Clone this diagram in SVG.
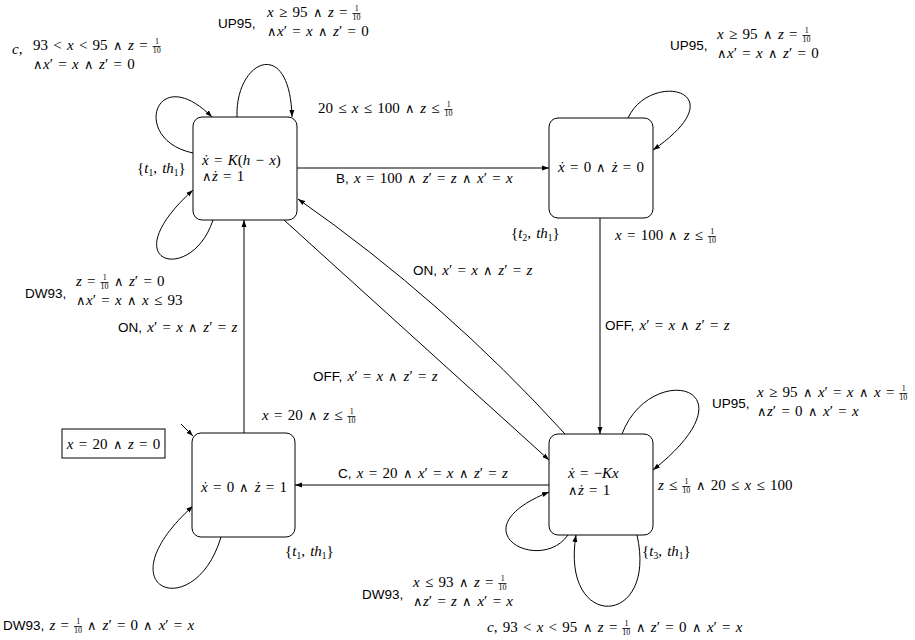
<svg xmlns="http://www.w3.org/2000/svg" width="915" height="640" viewBox="0 0 915 640">
<defs>
<style>
.m{font-family:"Liberation Serif","DejaVu Serif",serif;font-size:15px;word-spacing:1.5px;fill:#000}
.i{font-style:italic}
.s{font-family:"Liberation Sans",Arial,sans-serif;font-size:13.5px;font-style:normal;word-spacing:0}
.a{font-family:"DejaVu Sans",sans-serif;font-weight:200;font-size:13px}
.fr{font-size:8px}
.ol{text-decoration:overline}
.sb{font-size:9.5px}
.box{fill:#fff;stroke:#000;stroke-width:1}
.e{fill:none;stroke:#000;stroke-width:1;marker-end:url(#ah)}
</style>
<marker id="ah" viewBox="0 0 10 10" refX="10" refY="5" markerWidth="7" markerHeight="7" orient="auto" markerUnits="userSpaceOnUse">
<path d="M0,1.5 L10,5 L0,8.5 z" fill="#000"/>
</marker>
</defs>
<rect width="915" height="640" fill="#fff"/>

<g id="connectors">
<path class="e" d="M297,168 L549,168"/>
<path class="e" d="M600,218 L600,434"/>
<path class="e" d="M549,485 L295,485"/>
<path class="e" d="M244,433 L244,220"/>
<path class="e" d="M284,220 L549,460"/>
<path class="e" d="M565,434 Q444.7,301.5 298,199"/>
<path class="e" d="M237,117 C235,60 290,35 292,117"/>
<path class="e" d="M193,153 C130,140 155,60 212,117"/>
<path class="e" d="M213,220 C192,285 110,265 193,190"/>
<path class="e" d="M628,118 C650,70 740,90 653,150"/>
<path class="e" d="M622,434 C650,360 760,385 653,470"/>
<path class="e" d="M568,535 C540,575 455,530 549,492"/>
<path class="e" d="M637,535 C658,628 560,632 576,535"/>
<path class="e" d="M221,537 C195,625 100,590 193,506"/>
<path class="e" d="M181,424 L193,436"/>
</g>

<g id="n1">
<rect class="box" x="193" y="117" width="104" height="103" rx="9"/>
<text class="m" x="202" y="165"><tspan class="i">x&#x307;</tspan> = <tspan class="i">K</tspan>(<tspan class="i">h</tspan> − <tspan class="i">x</tspan>)</text>
<text class="m" x="202" y="181"><tspan class="a">∧</tspan><tspan class="i">z&#x307;</tspan> = 1</text>
</g>
<g id="n2">
<rect class="box" x="549" y="118" width="104" height="100" rx="9"/>
<text class="m" x="601" y="172" text-anchor="middle"><tspan class="i">x&#x307;</tspan> = 0 <tspan class="a">∧</tspan> <tspan class="i">z&#x307;</tspan> = 0</text>
</g>
<g id="n3">
<rect class="box" x="192" y="433" width="103" height="104" rx="9"/>
<text class="m" x="244" y="492" text-anchor="middle"><tspan class="i">x&#x307;</tspan> = 0 <tspan class="a">∧</tspan> <tspan class="i">z&#x307;</tspan> = 1</text>
</g>
<g id="n4">
<rect class="box" x="549" y="434" width="104" height="101" rx="9"/>
<text class="m" x="568" y="478"><tspan class="i">x&#x307;</tspan> = −<tspan class="i">Kx</tspan></text>
<text class="m" x="568" y="495"><tspan class="a">∧</tspan><tspan class="i">z&#x307;</tspan> = 1</text>
</g>
<g id="init">
<rect x="62" y="429" width="103" height="29" fill="#fff" stroke="#000" stroke-width="1"/>
<text class="m" x="113.5" y="449" text-anchor="middle"><tspan class="i">x</tspan> = 20 <tspan class="a">∧</tspan> <tspan class="i">z</tspan> = 0</text>
</g>

<g id="labels">
<text class="m" x="12" y="54"><tspan class="i">c</tspan>,</text>
<text class="m" x="33" y="50">93 &lt; <tspan class="i">x</tspan> &lt; 95 <tspan class="a">∧</tspan> <tspan class="i">z</tspan> = <tspan class="fr" dx="2" dy="-6">1</tspan><tspan class="fr ol" dx="-6" dy="9">10</tspan></text>
<text class="m" x="33" y="69"><tspan class="a">∧</tspan><tspan class="i">x</tspan>′ = <tspan class="i">x</tspan> <tspan class="a">∧</tspan> <tspan class="i">z</tspan>′ = 0</text>

<text class="s" x="218" y="28">UP95,</text>
<text class="m" x="267" y="17"><tspan class="i">x</tspan> ≥ 95 <tspan class="a">∧</tspan> <tspan class="i">z</tspan> = <tspan class="fr" dx="2" dy="-6">1</tspan><tspan class="fr ol" dx="-6" dy="9">10</tspan></text>
<text class="m" x="267" y="36"><tspan class="a">∧</tspan><tspan class="i">x</tspan>′ = <tspan class="i">x</tspan> <tspan class="a">∧</tspan> <tspan class="i">z</tspan>′ = 0</text>

<text class="m" x="318" y="113">20 ≤ <tspan class="i">x</tspan> ≤ 100 <tspan class="a">∧</tspan> <tspan class="i">z</tspan> ≤ <tspan class="fr" dx="2" dy="-6">1</tspan><tspan class="fr ol" dx="-6" dy="9">10</tspan></text>

<text class="m" x="137" y="173">{<tspan class="i">t</tspan><tspan class="sb" dy="3">1</tspan><tspan dy="-3">, </tspan><tspan class="i">th</tspan><tspan class="sb" dy="3">1</tspan><tspan dy="-3">}</tspan></text>

<text class="m" x="336" y="183"><tspan class="s">B,</tspan> <tspan class="i">x</tspan> = 100 <tspan class="a">∧</tspan> <tspan class="i">z</tspan>′ = <tspan class="i">z</tspan> <tspan class="a">∧</tspan> <tspan class="i">x</tspan>′ = <tspan class="i">x</tspan></text>

<text class="s" x="670" y="50">UP95,</text>
<text class="m" x="717" y="39"><tspan class="i">x</tspan> ≥ 95 <tspan class="a">∧</tspan> <tspan class="i">z</tspan> = <tspan class="fr" dx="2" dy="-6">1</tspan><tspan class="fr ol" dx="-6" dy="9">10</tspan></text>
<text class="m" x="717" y="58"><tspan class="a">∧</tspan><tspan class="i">x</tspan>′ = <tspan class="i">x</tspan> <tspan class="a">∧</tspan> <tspan class="i">z</tspan>′ = 0</text>

<text class="m" x="511" y="238">{<tspan class="i">t</tspan><tspan class="sb" dy="3">2</tspan><tspan dy="-3">, </tspan><tspan class="i">th</tspan><tspan class="sb" dy="3">1</tspan><tspan dy="-3">}</tspan></text>
<text class="m" x="615" y="240"><tspan class="i">x</tspan> = 100 <tspan class="a">∧</tspan> <tspan class="i">z</tspan> ≤ <tspan class="fr" dx="2" dy="-6">1</tspan><tspan class="fr ol" dx="-6" dy="9">10</tspan></text>

<text class="m" x="605" y="330"><tspan class="s">OFF,</tspan> <tspan class="i">x</tspan>′ = <tspan class="i">x</tspan> <tspan class="a">∧</tspan> <tspan class="i">z</tspan>′ = <tspan class="i">z</tspan></text>
<text class="m" x="413" y="275"><tspan class="s">ON,</tspan> <tspan class="i">x</tspan>′ = <tspan class="i">x</tspan> <tspan class="a">∧</tspan> <tspan class="i">z</tspan>′ = <tspan class="i">z</tspan></text>
<text class="m" x="313" y="381"><tspan class="s">OFF,</tspan> <tspan class="i">x</tspan>′ = <tspan class="i">x</tspan> <tspan class="a">∧</tspan> <tspan class="i">z</tspan>′ = <tspan class="i">z</tspan></text>

<text class="s" x="25" y="298">DW93,</text>
<text class="m" x="76" y="286"><tspan class="i">z</tspan> = <tspan class="fr" dx="2" dy="-6">1</tspan><tspan class="fr ol" dx="-6" dy="9">10</tspan><tspan dy="-3"> </tspan><tspan class="a">∧</tspan> <tspan class="i">z</tspan>′ = 0</text>
<text class="m" x="76" y="305"><tspan class="a">∧</tspan><tspan class="i">x</tspan>′ = <tspan class="i">x</tspan> <tspan class="a">∧</tspan> <tspan class="i">x</tspan> ≤ 93</text>
<text class="m" x="118" y="332"><tspan class="s">ON,</tspan> <tspan class="i">x</tspan>′ = <tspan class="i">x</tspan> <tspan class="a">∧</tspan> <tspan class="i">z</tspan>′ = <tspan class="i">z</tspan></text>

<text class="m" x="262" y="420"><tspan class="i">x</tspan> = 20 <tspan class="a">∧</tspan> <tspan class="i">z</tspan> ≤ <tspan class="fr" dx="2" dy="-6">1</tspan><tspan class="fr ol" dx="-6" dy="9">10</tspan></text>

<text class="s" x="712" y="408">UP95,</text>
<text class="m" x="757" y="397"><tspan class="i">x</tspan> ≥ 95 <tspan class="a">∧</tspan> <tspan class="i">x</tspan>′ = <tspan class="i">x</tspan> <tspan class="a">∧</tspan> <tspan class="i">x</tspan> = <tspan class="fr" dx="2" dy="-6">1</tspan><tspan class="fr ol" dx="-6" dy="9">10</tspan></text>
<text class="m" x="757" y="416"><tspan class="a">∧</tspan><tspan class="i">z</tspan>′ = 0 <tspan class="a">∧</tspan> <tspan class="i">x</tspan>′ = <tspan class="i">x</tspan></text>

<text class="m" x="658" y="490"><tspan class="i">z</tspan> ≤ <tspan class="fr" dx="2" dy="-6">1</tspan><tspan class="fr ol" dx="-6" dy="9">10</tspan><tspan dy="-3"> </tspan><tspan class="a">∧</tspan> 20 ≤ <tspan class="i">x</tspan> ≤ 100</text>

<text class="m" x="338" y="478"><tspan class="s">C,</tspan> <tspan class="i">x</tspan> = 20 <tspan class="a">∧</tspan> <tspan class="i">x</tspan>′ = <tspan class="i">x</tspan> <tspan class="a">∧</tspan> <tspan class="i">z</tspan>′ = <tspan class="i">z</tspan></text>

<text class="m" x="285" y="556">{<tspan class="i">t</tspan><tspan class="sb" dy="3">1</tspan><tspan dy="-3">, </tspan><tspan class="i">th</tspan><tspan class="sb" dy="3">1</tspan><tspan dy="-3">}</tspan></text>
<text class="m" x="642" y="556">{<tspan class="i">t</tspan><tspan class="sb" dy="3">3</tspan><tspan dy="-3">, </tspan><tspan class="i">th</tspan><tspan class="sb" dy="3">1</tspan><tspan dy="-3">}</tspan></text>

<text class="s" x="362" y="599">DW93,</text>
<text class="m" x="413" y="587"><tspan class="i">x</tspan> ≤ 93 <tspan class="a">∧</tspan> <tspan class="i">z</tspan> = <tspan class="fr" dx="2" dy="-6">1</tspan><tspan class="fr ol" dx="-6" dy="9">10</tspan></text>
<text class="m" x="413" y="606"><tspan class="a">∧</tspan><tspan class="i">z</tspan>′ = <tspan class="i">z</tspan> <tspan class="a">∧</tspan> <tspan class="i">x</tspan>′ = <tspan class="i">x</tspan></text>

<text class="m" x="3" y="630"><tspan class="s">DW93,</tspan> <tspan class="i">z</tspan> = <tspan class="fr" dx="2" dy="-6">1</tspan><tspan class="fr ol" dx="-6" dy="9">10</tspan><tspan dy="-3"> </tspan><tspan class="a">∧</tspan> <tspan class="i">z</tspan>′ = 0 <tspan class="a">∧</tspan> <tspan class="i">x</tspan>′ = <tspan class="i">x</tspan></text>

<text class="m" x="487" y="632"><tspan class="i">c</tspan>, 93 &lt; <tspan class="i">x</tspan> &lt; 95 <tspan class="a">∧</tspan> <tspan class="i">z</tspan> = <tspan class="fr" dx="2" dy="-6">1</tspan><tspan class="fr ol" dx="-6" dy="9">10</tspan><tspan dy="-3"> </tspan><tspan class="a">∧</tspan> <tspan class="i">z</tspan>′ = 0 <tspan class="a">∧</tspan> <tspan class="i">x</tspan>′ = <tspan class="i">x</tspan></text>
</g>
</svg>
